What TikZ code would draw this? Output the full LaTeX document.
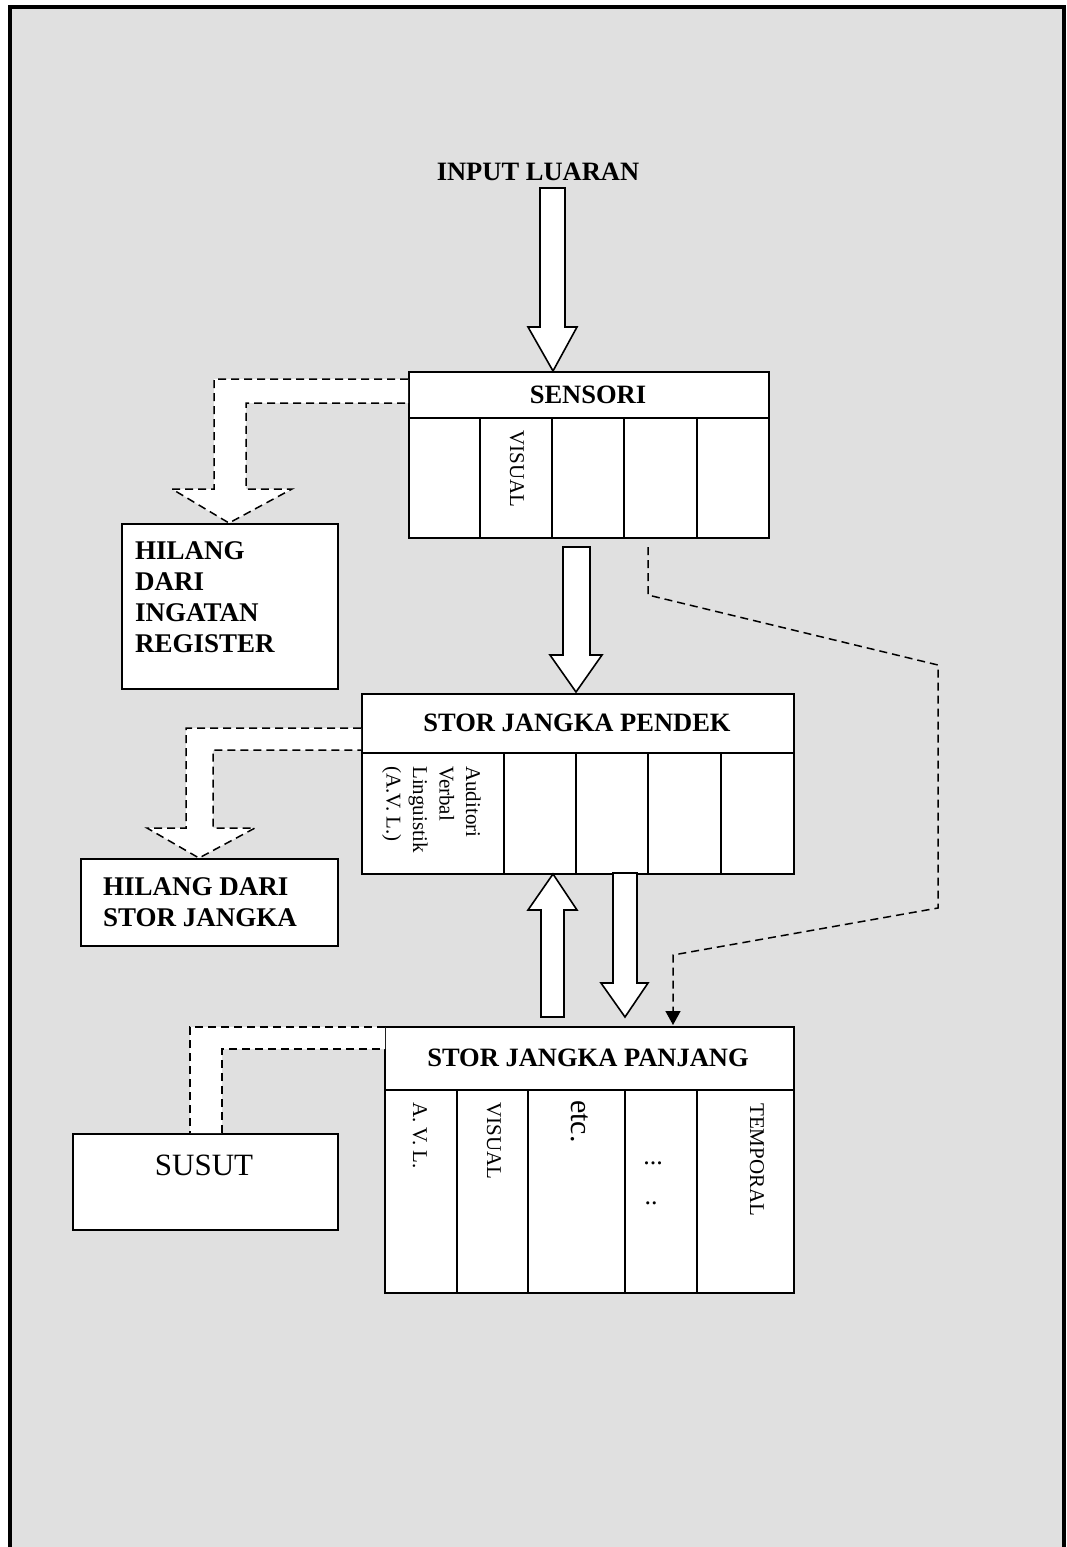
\documentclass[tikz,border=0pt]{standalone}
\usepackage{fontspec}
\setmainfont{Liberation Serif}
\usetikzlibrary{arrows.meta}
\definecolor{bg}{RGB}{224,224,224}
\begin{document}
\begin{tikzpicture}[x=1pt,y=-1pt,
  box/.style={draw=black,line width=1.6pt,fill=white,inner sep=0pt,rectangle},
  sep/.style={draw=black,line width=1.6pt},
  blockarrow/.style={draw=black,line width=1.6pt,fill=white,line join=miter},
  dasharrow/.style={draw=black,line width=1.5pt,fill=white,dash pattern=on 8pt off 5pt},
  dashline/.style={draw=black,line width=1.5pt,dash pattern=on 8pt off 5pt},
  head/.style={font=\fontsize{26.5}{31}\selectfont\bfseries,inner sep=0pt},
  col/.style={font=\fontsize{21}{26.5}\selectfont,inner sep=0pt,rotate=-90},
  lbl/.style={font=\fontsize{27}{31}\selectfont\bfseries,inner sep=0pt,align=left}
]
\useasboundingbox (0,0) rectangle (1067,1547);
% background and frame
\fill[bg] (10,7) rectangle (1064,1547);
\draw[line width=4pt] (10,1547) -- (10,7) -- (1064,7) -- (1064,1547);

% title
\node[head] (inp) at (538,172) {INPUT LUARAN};

% boxes
\node[box,anchor=north west,minimum width=360,minimum height=166] (sens) at (408,371) {};
\draw[sep] (408,418) -- (768,418);
\foreach \x in {480,552,624,697} \draw[sep] (\x,418) -- (\x,537);
\node[head] (senst) at (588,395) {SENSORI};
\node[col,anchor=west] (sv) at (517,430) {VISUAL};

\node[box,anchor=north west,minimum width=432,minimum height=180] (stm) at (361,693) {};
\draw[sep] (361,753) -- (793,753);
\foreach \x in {504,576,648,721} \draw[sep] (\x,753) -- (\x,873);
\node[head] (stmt) at (577,723) {STOR JANGKA PENDEK};
\node[col,anchor=north west,align=left] (avl) at (481,766) {Auditori\\Verbal\\Linguistik\\(A.V. L.)};

\node[box,anchor=north west,minimum width=409,minimum height=266] (ltm) at (384,1026) {};
\draw[sep] (384,1090) -- (793,1090);
\foreach \x in {457,528,625,697} \draw[sep] (\x,1090) -- (\x,1292);
\node[head] (ltmt) at (588,1058) {STOR JANGKA PANJANG};
\node[col,anchor=west] (l1) at (420,1102) {A. V. L.};
\node[col,anchor=west] (l2) at (494,1102) {VISUAL};
\node[col,anchor=west,font=\fontsize{30}{34}\selectfont] (l3) at (580,1100) {etc.};
\node[font=\fontsize{26}{30}\selectfont,inner sep=0pt] (l4) at (653,1163) {...};
\node[font=\fontsize{26}{30}\selectfont,inner sep=0pt] (l5) at (651,1203) {..};
\node[col,anchor=west] (l6) at (757,1103) {TEMPORAL};

\node[box,anchor=north west,minimum width=216,minimum height=165] (h1) at (121,523) {};
\node[lbl,anchor=west] (h1t) at (135,597) {HILANG\\DARI\\INGATAN\\REGISTER};
\node[box,anchor=north west,minimum width=257,minimum height=87] (h2) at (80,858) {};
\node[lbl,anchor=west] (h2t) at (103,902) {HILANG DARI\\STOR JANGKA};
\node[box,anchor=north west,minimum width=265,minimum height=96] (sus) at (72,1133) {};
\node[font=\fontsize{31}{36}\selectfont,inner sep=0pt] (sust) at (204,1165) {SUSUT};

% solid block arrows
\draw[blockarrow] (540,188) -- (565,188) -- (565,327) -- (577,327) -- (553,371) -- (528,327) -- (540,327) -- cycle;
\draw[blockarrow] (563,547) -- (590,547) -- (590,655) -- (602,655) -- (576,692) -- (550,655) -- (563,655) -- cycle;
\draw[blockarrow] (541,1017) -- (541,910) -- (528,910) -- (553,874) -- (577,910) -- (564,910) -- (564,1017) -- cycle;
\draw[blockarrow] (613,873) -- (613,983) -- (601,983) -- (625,1017) -- (648,983) -- (637,983) -- (637,873) -- cycle;

% dashed bent arrows
\fill[white] (408,379) -- (214,379) -- (214,489) -- (172,489) -- (229,523) -- (292,489) -- (246,489) -- (246,403) -- (408,403) -- cycle;
\draw[dashline] (408,379) -- (214,379) -- (214,489) -- (172,489) -- (229,523) -- (292,489) -- (246,489) -- (246,403) -- (408,403);
\fill[white] (361,728) -- (186,728) -- (186,828) -- (147,828) -- (199,858) -- (255,828) -- (213,828) -- (213,750) -- (361,750) -- cycle;
\draw[dashline] (361,728) -- (186,728) -- (186,828) -- (147,828) -- (199,858) -- (255,828) -- (213,828) -- (213,750) -- (361,750);
\fill[white] (385,1027) -- (190,1027) -- (190,1133) -- (222,1133) -- (222,1049) -- (385,1049) -- cycle;
\draw[dashline] (385,1027) -- (190,1027) -- (190,1133);
\draw[dashline] (222,1133) -- (222,1049) -- (385,1049);

% dashed connector from sensori to LTM
\coordinate (d0) at (648,547);
\coordinate (d5) at (673,1025);
\draw[dashline,-{Triangle[length=14pt,width=15pt]}] (d0) -- (648,595) -- (938,665) -- (938,908) -- (673,955) -- (d5);
\end{tikzpicture}
\end{document}
